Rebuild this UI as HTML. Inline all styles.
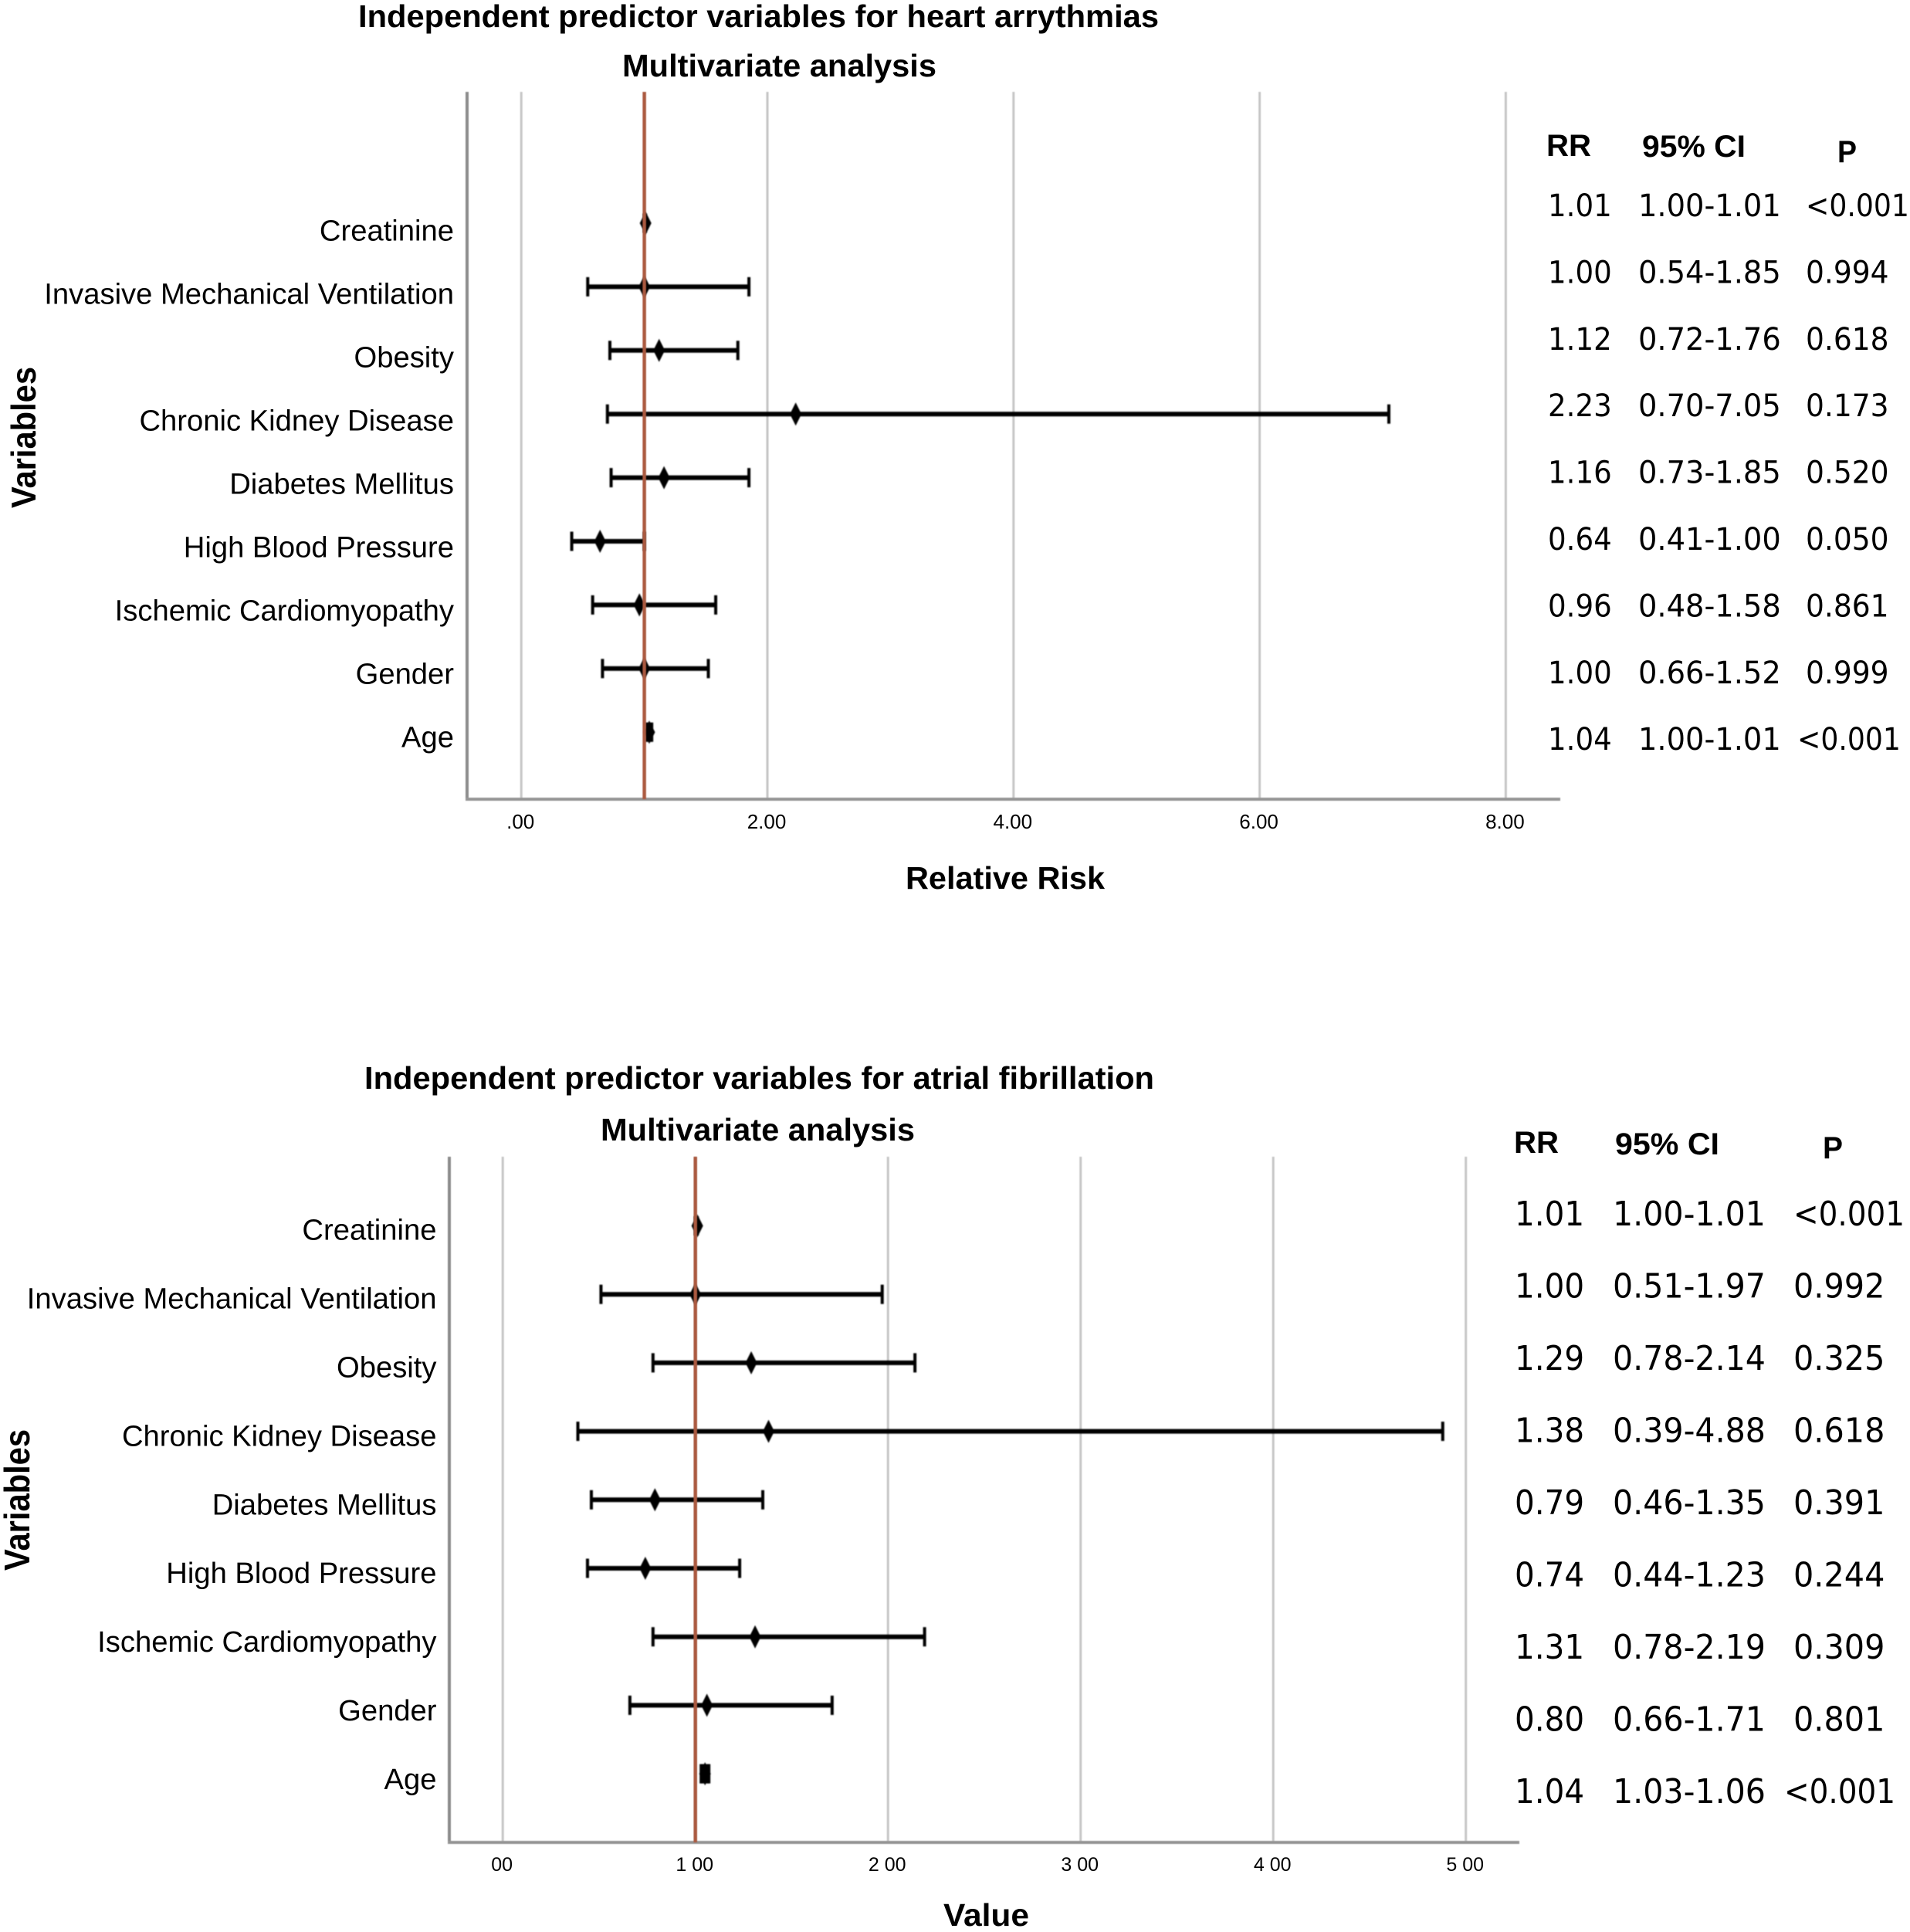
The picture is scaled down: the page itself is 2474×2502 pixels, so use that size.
<!DOCTYPE html>
<html lang="en">
<head>
<meta charset="utf-8">
<title>Independent predictor variables forest plots</title>
<style>
html,body{margin:0;padding:0;background:#fff;width:2474px;height:2502px;overflow:hidden}
svg{display:block}
text{font-family:"Liberation Sans",sans-serif;fill:#000}
.title,.axis-title,.head{font-weight:bold}
.cell{font-family:"DejaVu Sans","Liberation Sans",sans-serif}
</style>
</head>
<body>
<svg id="chart" xmlns="http://www.w3.org/2000/svg" width="2474" height="2502" viewBox="0 0 2474 2502">
  <defs>
    <filter id="soft" x="-10%" y="-10%" width="120%" height="120%"><feGaussianBlur stdDeviation="0.8"/></filter>
    <filter id="softLine" filterUnits="userSpaceOnUse" x="0" y="0" width="2474" height="2502"><feGaussianBlur stdDeviation="0.6"/></filter>
  </defs>
  <rect x="0" y="0" width="2474" height="2502" fill="#fff"/>

  <text class="title" x="464" y="35" font-size="41" textLength="1037" lengthAdjust="spacingAndGlyphs">Independent predictor variables for heart arrythmias</text>
  <text class="title" x="806" y="99" font-size="41" textLength="407" lengthAdjust="spacingAndGlyphs">Multivariate analysis</text>
  <text class="axis-title" transform="translate(46,658) rotate(-90) scale(1,1.08)" font-size="41" textLength="183" lengthAdjust="spacingAndGlyphs">Variables</text>
  <text class="axis-title" x="1173" y="1151" font-size="41" textLength="258" lengthAdjust="spacingAndGlyphs">Relative Risk</text>
  <text class="head" x="2003" y="202" font-size="40" textLength="58" lengthAdjust="spacingAndGlyphs">RR</text>
  <text class="head" x="2127" y="203" font-size="40" textLength="134" lengthAdjust="spacingAndGlyphs">95% CI</text>
  <text class="head" x="2380" y="210" font-size="40" textLength="25" lengthAdjust="spacingAndGlyphs">P</text>

  <text class="title" x="472" y="1410" font-size="41" textLength="1023" lengthAdjust="spacingAndGlyphs">Independent predictor variables for atrial fibrillation</text>
  <text class="title" x="778" y="1477" font-size="41" textLength="407" lengthAdjust="spacingAndGlyphs">Multivariate analysis</text>
  <text class="axis-title" transform="translate(38,2034) rotate(-90) scale(1,1.12)" font-size="41" textLength="183" lengthAdjust="spacingAndGlyphs">Variables</text>
  <text class="axis-title" x="1222" y="2494" font-size="41" textLength="111" lengthAdjust="spacingAndGlyphs">Value</text>
  <text class="head" x="1961" y="1493" font-size="40" textLength="58" lengthAdjust="spacingAndGlyphs">RR</text>
  <text class="head" x="2092" y="1495" font-size="40" textLength="135" lengthAdjust="spacingAndGlyphs">95% CI</text>
  <text class="head" x="2361" y="1500" font-size="40" textLength="26" lengthAdjust="spacingAndGlyphs">P</text>
</svg>
<script>
var categories = ["Creatinine","Invasive Mechanical Ventilation","Obesity","Chronic Kidney Disease","Diabetes Mellitus","High Blood Pressure","Ischemic Cardiomyopathy","Gender","Age"];

var arrhythmiaEstimate = [1.01,1.00,1.12,2.23,1.16,0.64,0.96,1.00,1.04];
var arrhythmiaLow = [1.00,0.54,0.72,0.70,0.73,0.41,0.58,0.66,1.02];
var arrhythmiaHigh = [1.01,1.85,1.76,7.05,1.85,1.00,1.58,1.52,1.06];
var arrhythmiaTickValues = [0,2,4,6,8];
var arrhythmiaTickLabels = [".00","2.00","4.00","6.00","8.00"];
var arrhythmiaReference = 1;
var arrhythmiaPrintedRR = ["1.01","1.00","1.12","2.23","1.16","0.64","0.96","1.00","1.04"];
var arrhythmiaPrintedCI = ["1.00-1.01","0.54-1.85","0.72-1.76","0.70-7.05","0.73-1.85","0.41-1.00","0.48-1.58","0.66-1.52","1.00-1.01"];
var arrhythmiaPrintedP = ["<0.001","0.994","0.618","0.173","0.520","0.050","0.861","0.999","<0.001"];

var fibrillationEstimate = [1.01,1.00,1.29,1.38,0.79,0.74,1.31,1.06,1.05];
var fibrillationLow = [1.00,0.51,0.78,0.39,0.46,0.44,0.78,0.66,1.03];
var fibrillationHigh = [1.01,1.97,2.14,4.88,1.35,1.23,2.19,1.71,1.07];
var fibrillationTickValues = [0,1,2,3,4,5];
var fibrillationTickLabels = ["00","1 00","2 00","3 00","4 00","5 00"];
var fibrillationReference = 1;
var fibrillationPrintedRR = ["1.01","1.00","1.29","1.38","0.79","0.74","1.31","0.80","1.04"];
var fibrillationPrintedCI = ["1.00-1.01","0.51-1.97","0.78-2.14","0.39-4.88","0.46-1.35","0.44-1.23","0.78-2.19","0.66-1.71","1.03-1.06"];
var fibrillationPrintedP = ["<0.001","0.992","0.325","0.618","0.391","0.244","0.309","0.801","<0.001"];

var SVG_NS = "http://www.w3.org/2000/svg";
var root = document.getElementById("chart");

function mk(parent, tag, attrs, txt) {
  var el = document.createElementNS(SVG_NS, tag);
  for (var k in attrs) { el.setAttribute(k, attrs[k]); }
  if (txt !== undefined) { el.textContent = txt; }
  parent.appendChild(el);
  return el;
}

function drawPlot(cfg) {
  var el;
  function x(v) { return cfg.x0 + v * cfg.perUnit; }
  function markY(i) { return cfg.markStart + i * cfg.markStep; }
  function labelY(i) { return cfg.labelStart + i * cfg.labelStep; }
  function rowY(i) { return cfg.rowStart + i * cfg.rowStep; }

  var frame = mk(root, "g", {filter: "url(#softLine)"});
  
  

  cfg.ticks.forEach(function (t, i) {
    el = mk(frame, "line", {x1: x(t), x2: x(t), y1: cfg.top, y2: cfg.bottom, stroke: "#c6c6c6", "stroke-width": 3});
    
    
    el = mk(root, "text", {x: x(t) - 1, y: cfg.tickBase, "font-size": cfg.tickFont, "text-anchor": "middle"}, cfg.tickLabels[i]);
    
    
  });

  el = mk(frame, "line", {x1: cfg.axisX, x2: cfg.axisX, y1: cfg.top, y2: cfg.bottom + 2, stroke: "#8c8c8c", "stroke-width": 4});
  
  
  el = mk(frame, "line", {x1: cfg.axisX - 2, x2: cfg.axisRight, y1: cfg.bottom, y2: cfg.bottom, stroke: "#959595", "stroke-width": 4});
  
  

  var marks = mk(root, "g", {filter: "url(#soft)"});
  
  

  categories.forEach(function (name, i) {
    var y = markY(i);
    var capH = 12.5;
    el = mk(root, "text", {x: cfg.labelRight, y: labelY(i), "font-size": 38.2, "text-anchor": "end"}, name);
    
    

    el = mk(marks, "line", {x1: x(cfg.low[i]), x2: x(cfg.high[i]), y1: y, y2: y, stroke: "#000", "stroke-width": 6});
    
    
    el = mk(marks, "line", {x1: x(cfg.low[i]), x2: x(cfg.low[i]), y1: y - capH, y2: y + capH, stroke: "#000", "stroke-width": 4});
    
    
    el = mk(marks, "line", {x1: x(cfg.high[i]), x2: x(cfg.high[i]), y1: y - capH, y2: y + capH, stroke: "#000", "stroke-width": 4});
    
    
    if (x(cfg.high[i]) - x(cfg.low[i]) < 14) {
      el = mk(marks, "rect", {x: x(cfg.low[i]), y: y - capH, width: x(cfg.high[i]) - x(cfg.low[i]), height: capH * 2, fill: "#000"});
      
      
    }
    var cx = x(cfg.est[i]);
    el = mk(marks, "polygon", {points: (cx - 7.5) + "," + y + " " + cx + "," + (y - 15) + " " + (cx + 7.5) + "," + y + " " + cx + "," + (y + 15), fill: "#000"});
    
    

    var base = rowY(i);
    el = mk(root, "text", {"class": "cell", transform: "translate(" + cfg.rrX + "," + base + ") scale(" + cfg.rrScale + ",1)", "font-size": cfg.cellFont}, cfg.printedRR[i]);
    
    
    el = mk(root, "text", {"class": "cell", transform: "translate(" + cfg.ciX + "," + base + ") scale(" + cfg.ciScale + ",1)", "font-size": cfg.cellFont}, cfg.printedCI[i]);
    
    
    var px = (i === categories.length - 1) ? cfg.pLastX : cfg.pX;
    var ps = cfg.printedP[i].charAt(0) === "<" ? cfg.pLessScale : cfg.pScale;
    el = mk(root, "text", {"class": "cell", transform: "translate(" + px + "," + base + ") scale(" + ps + ",1)", "font-size": cfg.cellFont}, cfg.printedP[i]);
    
    
  });

  el = mk(root, "line", {x1: x(cfg.reference), x2: x(cfg.reference), y1: cfg.top, y2: cfg.bottom, stroke: "#ab5a40", "stroke-width": 4.5, filter: "url(#softLine)"});
  
  
}

drawPlot({
  x0: 675.2, perUnit: 159.4, axisX: 605, axisRight: 2021, top: 119, bottom: 1035,
  tickBase: 1073, tickFont: 26,
  markStart: 289, markStep: 82.4, labelStart: 311.6, labelStep: 82, labelRight: 588,
  rowStart: 280, rowStep: 86.4, cellFont: 40,
  rrX: 2005, rrScale: 0.93, ciX: 2122, ciScale: 0.96, pX: 2339, pLastX: 2328, pScale: 0.94, pLessScale: 0.905,
  ticks: arrhythmiaTickValues, tickLabels: arrhythmiaTickLabels, reference: arrhythmiaReference,
  est: arrhythmiaEstimate, low: arrhythmiaLow, high: arrhythmiaHigh,
  printedRR: arrhythmiaPrintedRR, printedCI: arrhythmiaPrintedCI, printedP: arrhythmiaPrintedP
});

drawPlot({
  x0: 651.2, perUnit: 249.5, axisX: 582, axisRight: 1968, top: 1498, bottom: 2386,
  tickBase: 2423, tickFont: 25,
  markStart: 1587.5, markStep: 88.7, labelStart: 1605.7, labelStep: 88.9, labelRight: 565.5,
  rowStart: 1587, rowStep: 93.5, cellFont: 44,
  rrX: 1962, rrScale: 0.92, ciX: 2089, ciScale: 0.935, pX: 2323, pLastX: 2311, pScale: 0.94, pLessScale: 0.885,
  ticks: fibrillationTickValues, tickLabels: fibrillationTickLabels, reference: fibrillationReference,
  est: fibrillationEstimate, low: fibrillationLow, high: fibrillationHigh,
  printedRR: fibrillationPrintedRR, printedCI: fibrillationPrintedCI, printedP: fibrillationPrintedP
});
</script>
</body>
</html>
